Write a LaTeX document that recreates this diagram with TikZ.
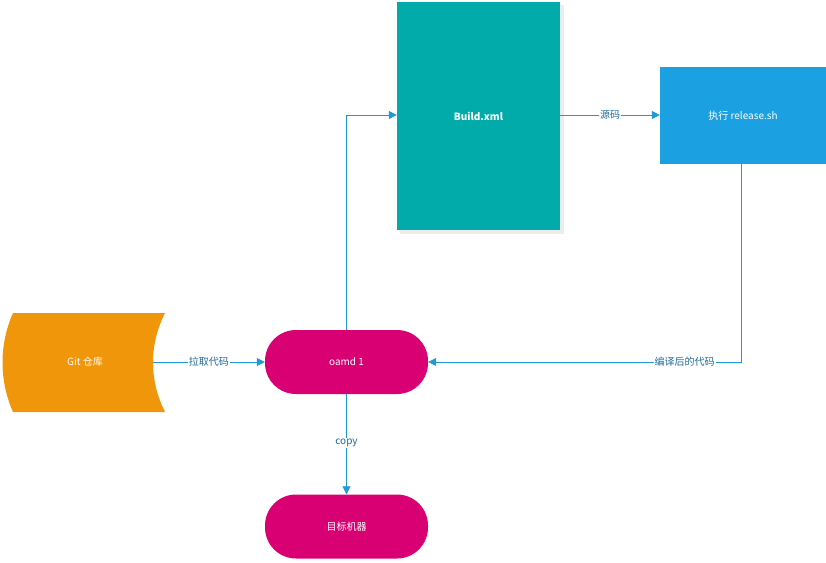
\documentclass[tikz,border=0pt]{standalone}
\usepackage{fontspec}
\setmainfont{Noto Sans CJK SC}
\usetikzlibrary{arrows.meta}
\definecolor{gitorange}{HTML}{F0960A}
\definecolor{magenta}{HTML}{D80073}
\definecolor{teal}{HTML}{00ABA9}
\definecolor{blueb}{HTML}{1BA1E2}
\definecolor{linec}{HTML}{1E9AD8}
\definecolor{labelc}{HTML}{1F6A9A}
\begin{document}
\begin{tikzpicture}[x=1pt,y=-1pt,
  every node/.style={font=\fontsize{10}{12}\selectfont},
  boxtext/.style={text=white},
  pill/.style={fill=magenta, rounded corners=31pt, minimum width=163pt, minimum height=64pt, inner sep=0pt, text=white},
  conn/.style={draw=linec, line width=0.8pt, -{Triangle[length=8pt,width=8pt]}},
  lbl/.style={fill=white, text=labelc, inner sep=1pt}]
\useasboundingbox (0,0) rectangle (826,562);
% Git shape
\fill[gitorange] (13,313) -- (165,313) .. controls (149,345) and (149,380) .. (165,412)
  -- (13,412) .. controls (-1,380) and (-1,345) .. (13,313) -- cycle;
\node[boxtext] (git) at (85,362) {Git 仓库};
\coordinate (gitout) at (153,362);
% oamd1
\node[pill] (oamd) at (346.5,362) {oamd 1};
\node[pill] (target) at (346.5,526.5) {目标机器};
% Build.xml
\fill[gray!15] (400,5) rectangle (564,234);
\node[fill=teal, minimum width=163pt, minimum height=228pt, inner sep=0pt, text=white, font=\fontsize{10}{12}\selectfont\bfseries] (build) at (478.5,116) {Build.xml};
% release
\node[fill=blueb, minimum width=166pt, minimum height=97pt, inner sep=0pt, text=white] (rel) at (743,115.5) {执行 release.sh};
% connectors
\draw[conn] (gitout) -- node[lbl] {拉取代码} (oamd.west);
\draw[conn] (oamd.north) |- (build.west |- 0,115);
\draw[conn] (build.east |- 0,115) -- node[lbl] {源码} (rel.west |- 0,115);
\draw[conn] (rel.south -| 741,0) |- node[lbl, pos=0.59] {编译后的代码} (oamd.east);
\draw[conn] (oamd.south) -- node[lbl, pos=0.49] {copy} (target.north);
\end{tikzpicture}
\end{document}
